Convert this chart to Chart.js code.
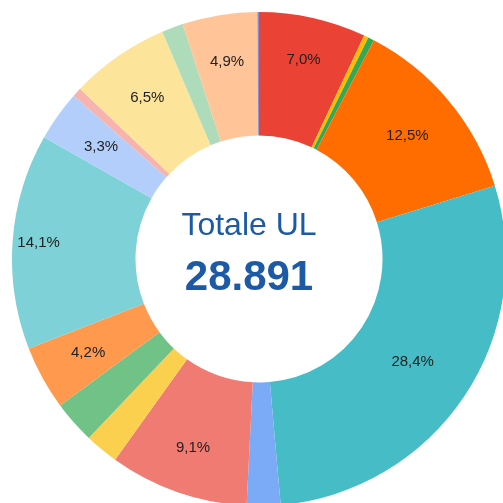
<!DOCTYPE html>
<html>
<head>
<meta charset="utf-8">
<script src="https://cdn.jsdelivr.net/npm/chart.js@4/dist/chart.umd.min.js"></script>
<style>
  html, body { margin: 0; padding: 0; overflow: hidden; background: #ffffff; width: 503px; height: 503px; }
  #wrap { position: absolute; left: 12px; top: 12px; width: 494px; height: 494px; }
</style>
</head>
<body>
<div id="wrap"><canvas id="c" width="494" height="494"></canvas></div>
<script>
// ---- Data (percent of total UL) ----
const categories = [
  "Categoria A", "Categoria B", "Categoria C", "Categoria D", "Categoria E",
  "Categoria F", "Categoria G", "Categoria H", "Categoria I", "Categoria J",
  "Categoria K", "Categoria L", "Categoria M", "Categoria N", "Categoria O",
  "Categoria P", "Categoria Q"
];
const shares = [7.0, 0.3, 0.4, 12.5, 28.4, 2.2, 9.1, 2.2, 2.8, 4.2, 14.1, 3.3, 0.6, 6.5, 1.4, 4.9, 0.1];
const centerTitle = "Totale UL";
const centerTotal = "28.891";

// ---- Styles ----
const sliceColors = [
  "#EA4335", "#FBBC04", "#34A853", "#FF6D01", "#46BDC6",
  "#7BAAF7", "#F07B72", "#FCD04F", "#71C287", "#FF994D",
  "#7ED1D7", "#B3CEFB", "#F7B4AE", "#FDE49B", "#AEDCBA",
  "#FFC599", "#7F8CD8"
];
const labelRadius = [204, 0, 0, 193, 185, 0, 200, 0, 0, 195, 221, 194, 0, 196, 0, 200, 0];

const sliceLabels = {
  id: 'sliceLabels',
  afterDatasetsDraw(chart) {
    const ctx = chart.ctx;
    const meta = chart.getDatasetMeta(0);
    const data = chart.data.datasets[0].data;
    ctx.save();
    ctx.font = '15px "Liberation Sans", Arial, sans-serif';
    ctx.fillStyle = '#222222';
    ctx.textAlign = 'center';
    ctx.textBaseline = 'middle';
    meta.data.forEach((arc, i) => {
      if (data[i] < 3) return;
      const mid = (arc.startAngle + arc.endAngle) / 2;
      const r = labelRadius[i] || (arc.innerRadius + arc.outerRadius) / 2;
      const x = arc.x + r * Math.cos(mid);
      const y = arc.y + r * Math.sin(mid);
      ctx.fillText(data[i].toFixed(1).replace('.', ',') + '%', x, y);
    });
    ctx.restore();
  }
};

const centerText = {
  id: 'centerText',
  afterDatasetsDraw(chart) {
    const ctx = chart.ctx;
    const arc = chart.getDatasetMeta(0).data[0];
    const cx = arc.x, cy = arc.y;
    ctx.save();
    ctx.fillStyle = '#1C5AA6';
    ctx.textAlign = 'center';
    ctx.textBaseline = 'alphabetic';
    ctx.font = '32px "Liberation Sans", Arial, sans-serif';
    ctx.fillText(centerTitle, cx - 10, cy - 24);
    ctx.font = 'bold 42px "Liberation Sans", Arial, sans-serif';
    ctx.fillText(centerTotal, cx - 10, cy + 31);
    ctx.restore();
  }
};

new Chart(document.getElementById('c'), {
  type: 'doughnut',
  data: {
    labels: categories,
    datasets: [{
      data: shares,
      backgroundColor: sliceColors,
      borderWidth: 0,
      hoverOffset: 0
    }]
  },
  options: {
    responsive: false,
    animation: false,
    cutout: '50%',
    layout: { padding: 0 },
    plugins: {
      legend: { display: false },
      tooltip: { enabled: false }
    },
    events: []
  },
  plugins: [sliceLabels, centerText]
});
</script>
</body>
</html>
